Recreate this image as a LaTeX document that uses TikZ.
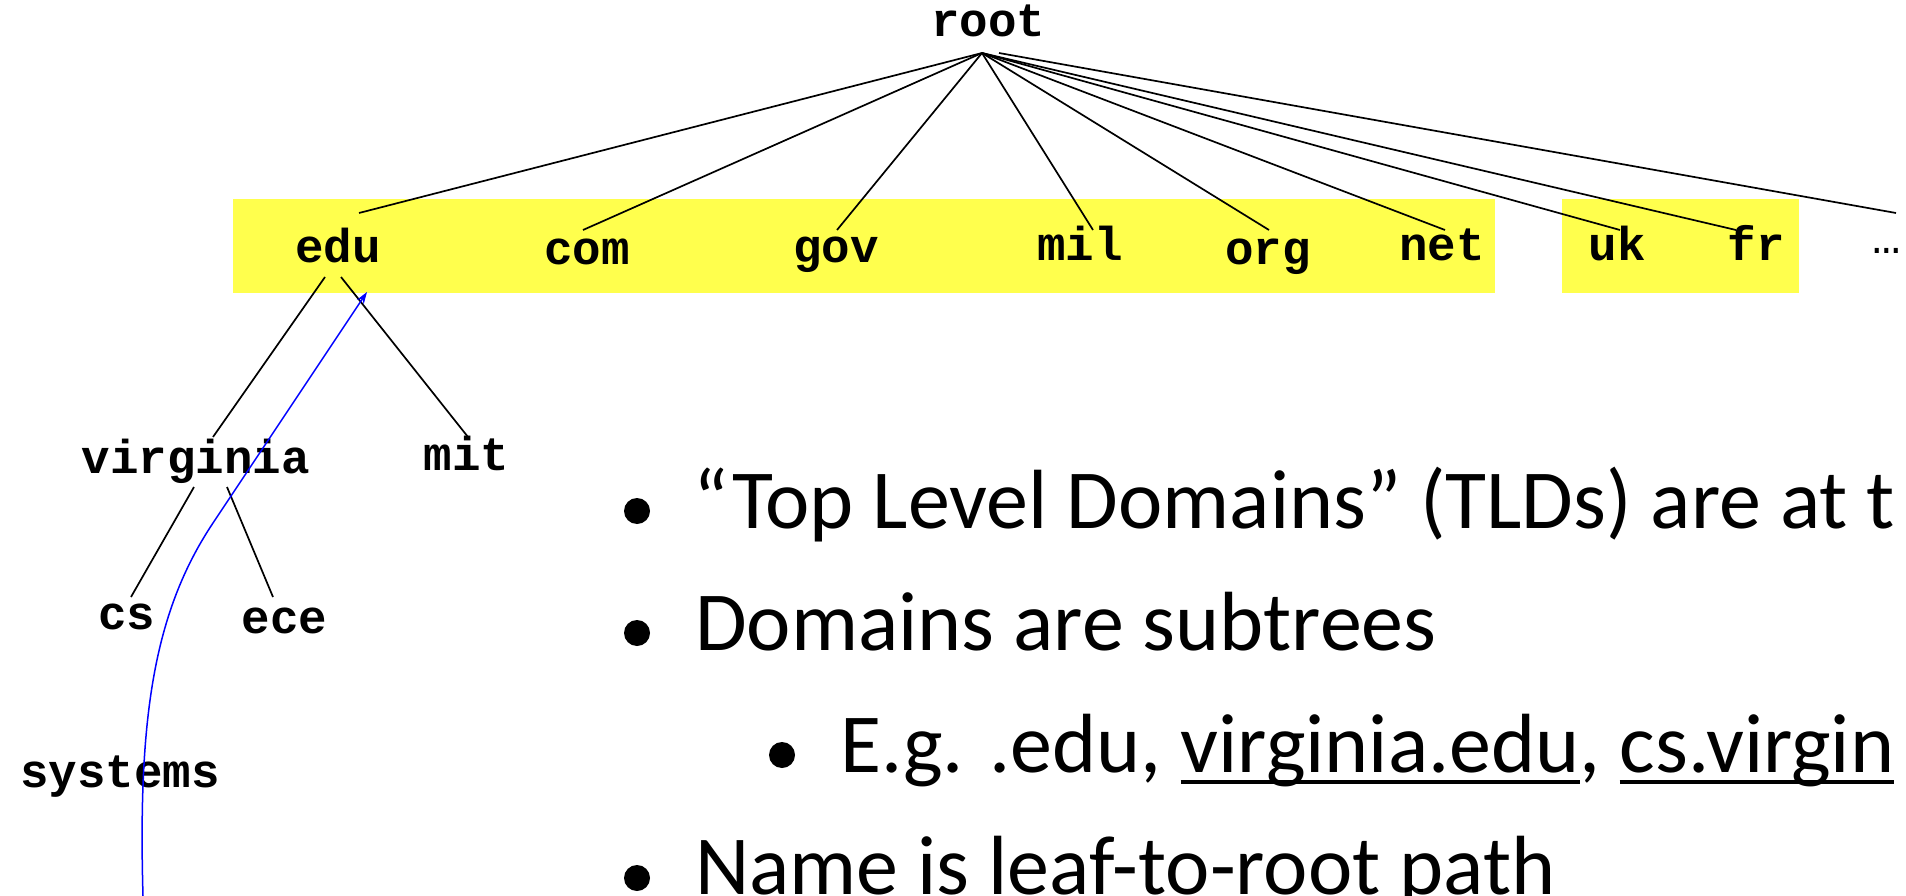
\documentclass[tikz,border=0pt]{standalone}
\usepackage{fontspec}
\setmainfont{Carlito}
\newfontfamily\treefont{Liberation Mono}
\usetikzlibrary{calc,arrows.meta}
\definecolor{tldyellow}{RGB}{255,255,77}
\definecolor{pathblue}{RGB}{0,0,255}
\tikzset{
  dom/.style={anchor=base,inner sep=0pt,font=\treefont\bfseries\fontsize{47.5}{50}\selectfont},
  bul/.style={anchor=base west,inner sep=0pt,font=\fontsize{84}{100}\selectfont},
  edge/.style={line width=1.7pt},
}
\newlength\ulwd
\newcommand\dnsul[1]{\settowidth{\ulwd}{#1}\rlap{\rule[-12pt]{\ulwd}{4.5pt}}#1}

\begin{document}
\begin{tikzpicture}[x=1pt,y=-1pt]
	\useasboundingbox (0,0) rectangle (1906,896);
	% top level domains
	\fill[tldyellow] (233,199) rectangle (1495,293);
	\fill[tldyellow] (1562,199) rectangle (1799,293);
	\node[dom] (root) at (988,37) {root};
	\node[dom] (edu) at (338,262) {edu};
	\node[dom] (com) at (587,265) {com};
	\node[dom] (gov) at (836,262) {gov};
	\node[dom] (mil) at (1080,261) {mil};
	\node[dom] (org) at (1268,265) {org};
	\node[dom] (net) at (1442,261) {net};
	\node[dom] (uk) at (1617,261) {uk};
	\node[dom] (fr) at (1756,261) {fr};
	\node[dom,font=\treefont\fontsize{47.5}{50}\selectfont] (more) at (1887,253) {…};
	\coordinate (hub) at ($(root.base)+(-6,16)$);
	\draw[edge] (hub) -- ($(edu.base)+(21,-49)$);
	\draw[edge] (hub) -- ($(com.base)+(-4,-35)$);
	\draw[edge] (hub) -- ($(gov.base)+(1,-32)$);
	\draw[edge] (hub) -- ($(mil.base)+(13,-31)$);
	\draw[edge] (hub) -- ($(org.base)+(1,-35)$);
	\draw[edge] (hub) -- ($(net.base)+(3,-31)$);
	\draw[edge] (hub) -- ($(uk.base)+(3,-31)$);
	\draw[edge] (hub) -- ($(fr.base)+(-20,-31)$);
	\draw[edge] ($(root.base)+(11,16)$) -- ($(more.base)+(9,-40)$);
	% subtree under edu
	\node[dom] (virginia) at (196,473) {virginia};
	\node[dom] (mit) at (466.5,470) {mit};
	\node[dom] (cs) at (127,629) {cs};
	\node[dom] (ece) at (284.5,633) {ece};
	\node[dom] (systems) at (120,787) {systems};
	\draw[edge] ($(edu.base)+(-13,15)$) -- ($(virginia.base)+(17,-36)$);
	\draw[edge] ($(edu.base)+(3,15)$) -- ($(mit.base)+(1.5,-33)$);
	\draw[edge] ($(virginia.base)+(-2,14)$) -- ($(cs.base)+(4,-32)$);
	\draw[edge] ($(virginia.base)+(31,14)$) -- ($(ece.base)+(-11.5,-36)$);
	% leaf-to-root path
	\coordinate (pathstart) at (143,896);
	\coordinate (pathend) at ($(edu.base)+(29,30)$);
	\draw[pathblue,line width=1.5pt,-{Stealth[length=12pt,width=8pt]}] (pathstart) .. controls (138,720) and (153,613) .. (213,523) -- (pathend);
	% bullets
	\fill (637,511) circle[radius=13pt];
	\fill (637,633) circle[radius=13pt];
	\fill (782,755) circle[radius=13pt];
	\fill (637,878) circle[radius=13pt];
	\node[bul] (tlds) at (693,528) {“Top Level Domains” (TLDs) are at t};
	\node[bul] (subtrees) at (695,650) {Domains are subtrees};
	\node[bul] (example) at (840,772) {E.g. .edu, \dnsul{virginia.edu}, \dnsul{cs.virgin}};
	\node[bul] (leafpath) at (695,894) {Name is leaf-to-root path};
\end{tikzpicture}
\end{document}
